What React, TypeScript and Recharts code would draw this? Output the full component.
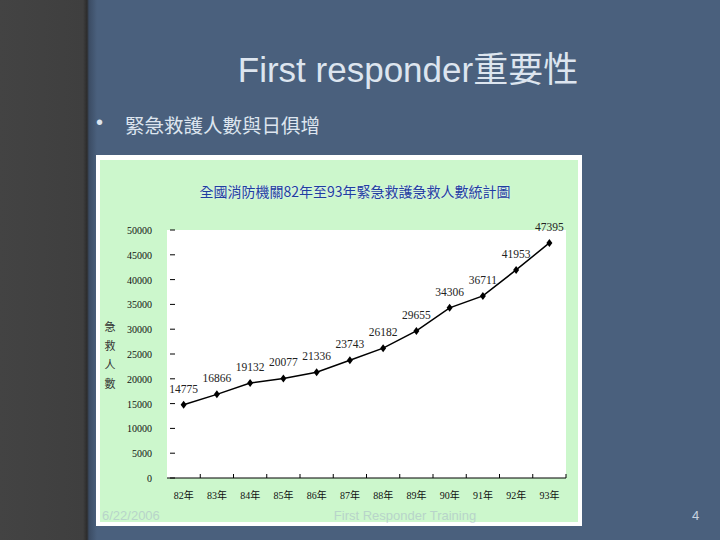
import { CartesianGrid, ComposedChart, LabelList, Line, XAxis, YAxis } from "recharts";

// 全國消防機關 82–93 年緊急救護急救人數
const years = ["82年", "83年", "84年", "85年", "86年", "87年", "88年", "89年", "90年", "91年", "92年", "93年"];
const rescueCounts = [14775, 16866, 19132, 20077, 21336, 23743, 26182, 29655, 34306, 36711, 41953, 47395];
const yTicks = [0, 5000, 10000, 15000, 20000, 25000, 30000, 35000, 40000, 45000, 50000];

const data = years.map((year, i) => ({ year, count: rescueCounts[i] }));

const CHART_W = 478;
const CHART_H = 362;
const Y_AXIS_W = 67;
const RIGHT = 12;
const AXIS_Y = CHART_H - 44;
const BAND = (CHART_W - Y_AXIS_W - RIGHT) / years.length;

const narrow = "'Liberation Serif', 'DejaVu Serif', 'Noto Sans CJK TC', serif";

function XTick({ x, y, payload }: any) {
  return (
    <g>
      <line x1={x + BAND / 2} x2={x + BAND / 2} y1={AXIS_Y - 4} y2={AXIS_Y} stroke="#000" />
      <text x={x} y={y} dy="0.71em" textAnchor="middle" fontSize={10} fontFamily={narrow} fill="#111">
        {payload.value}
      </text>
    </g>
  );
}

function YTick({ x, y, payload }: any) {
  return (
    <g>
      <line x1={Y_AXIS_W + 3} x2={Y_AXIS_W + 8} y1={y} y2={y} stroke="#000" />
      <text x={x} y={y} dy={4} textAnchor="end" fontSize={10} fontFamily={narrow} fill="#111">
        {payload.value}
      </text>
    </g>
  );
}

function Diamond({ cx, cy }: any) {
  if (cx == null || cy == null) return null;
  return <polygon points={`${cx},${cy - 4} ${cx + 3},${cy} ${cx},${cy + 4} ${cx - 3},${cy}`} fill="#000" />;
}

export default function App() {
  return (
    <div
      style={{
        position: "absolute",
        left: 0,
        top: 0,
        width: 720,
        height: 540,
        overflow: "hidden",
        fontFamily: "'Liberation Sans', Arial, 'Noto Sans CJK TC', sans-serif",
        background:
          "linear-gradient(to right, #434343 0px, #3f3f3f 83px, #2c2c2c 87px, #3b4c64 89px, #4a607d 97px, #4a607d 100%)",
      }}
    >
      <div style={{ position: "absolute", left: 98, width: 620, top: 41, textAlign: "center", fontSize: 35, color: "#dde5ef" }}>
        First responder重要性
      </div>
      <div style={{ position: "absolute", left: 96, top: 111, fontSize: 20, color: "#dde5ef" }}>•</div>
      <div style={{ position: "absolute", left: 125, top: 110, fontSize: 19.5, color: "#dde5ef", fontFamily: "'Noto Sans CJK TC', sans-serif" }}>
        緊急救護人數與日俱增
      </div>

      {/* pasted chart picture */}
      <div style={{ position: "absolute", left: 96, top: 155, width: 486, height: 371, background: "#ffffff" }} />
      <div style={{ position: "absolute", left: 100, top: 160, width: CHART_W, height: CHART_H, background: "#ccf7cc" }}>
        <div
          style={{
            position: "absolute",
            left: 0,
            width: 510,
            top: 21,
            textAlign: "center",
            fontSize: 14,
            color: "#1f3f9f",
            fontFamily: "'Noto Sans CJK TC', sans-serif",
            textShadow: "0 0 2px #e8f0ff",
          }}
        >
          全國消防機關82年至93年緊急救護急救人數統計圖
        </div>
        <div
          style={{
            position: "absolute",
            left: 2,
            top: 161,
            writingMode: "vertical-rl",
            fontSize: 11,
            letterSpacing: 8,
            color: "#333",
            fontFamily: "'Noto Sans CJK TC', sans-serif",
          }}
        >
          急救人數
        </div>
        <ComposedChart width={CHART_W} height={CHART_H} data={data} margin={{ top: 70, right: RIGHT, left: 0, bottom: 14 }}>
          <CartesianGrid horizontal={false} vertical={false} fill="#ffffff" />
          <XAxis
            dataKey="year"
            scale="band"
            height={30}
            axisLine={{ stroke: "#000" }}
            tickLine={false}
            tickSize={0}
            tickMargin={14}
            interval={0}
            tick={<XTick />}
          />
          <YAxis
            width={Y_AXIS_W}
            domain={[0, 50000]}
            ticks={yTicks}
            axisLine={false}
            tickLine={false}
            tickSize={0}
            tickMargin={15}
            interval={0}
            tick={<YTick />}
          />
          <Line
            dataKey="count"
            stroke="#000"
            strokeWidth={1.5}
            dot={<Diamond />}
            activeDot={false}
            isAnimationActive={false}
          >
            <LabelList dataKey="count" position="top" offset={12} fontSize={11.5} fontFamily={narrow} fill="#222" />
          </Line>
        </ComposedChart>
      </div>

      <div style={{ position: "absolute", left: 102, top: 508, fontSize: 13, color: "#a8b8c8", opacity: 0.55 }}>6/22/2006</div>
      <div style={{ position: "absolute", left: 300, width: 210, top: 508, textAlign: "center", fontSize: 13, color: "#a8b8c8", opacity: 0.55 }}>
        First Responder Training
      </div>
      <div style={{ position: "absolute", left: 692, top: 508, fontSize: 13, color: "#c8d3e0" }}>4</div>
    </div>
  );
}
